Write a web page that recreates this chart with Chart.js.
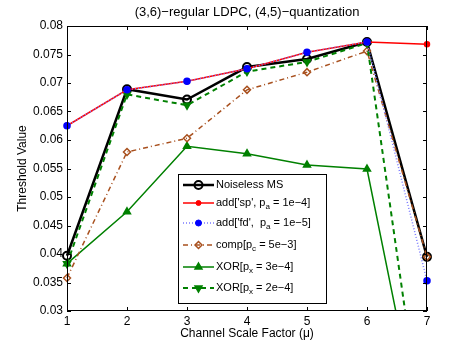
<!DOCTYPE html>
<html>
<head>
<meta charset="utf-8">
<script src="https://cdn.jsdelivr.net/npm/chart.js@4"></script>
<style>
  body { margin: 0; background: #fff; }
  #wrap { width: 453px; height: 345px; }
</style>
</head>
<body>
<div id="wrap"><canvas id="thresholdChart"></canvas></div>
<script>
// channel scale factor values
const scaleFactors = [1, 2, 3, 4, 5, 6, 7];
const yTicks = [0.03, 0.035, 0.04, 0.045, 0.05, 0.055, 0.06, 0.065, 0.07, 0.075, 0.08];

const noiselessMS = [0.0397, 0.0689, 0.0671, 0.0728, 0.0742, 0.0772, 0.0395];
const addSp = [0.0625, 0.0688, 0.0703, 0.0725, 0.0754, 0.0772, 0.0768];
const addFd = [0.0625, 0.0688, 0.0703, 0.0725, 0.0754, 0.0772, 0.0353];
const compVals = [0.0358, 0.0579, 0.0603, 0.0688, 0.0719, 0.0756, 0.0395];
const xor3 = [0.0383, 0.0474, 0.0589, 0.0576, 0.0556, 0.0549, 0.003];
const xor2 = [0.0383, 0.068, 0.0661, 0.072, 0.0737, 0.077, 0.003];

const chartTitle = "(3,6)−regular LDPC, (4,5)−quantization";

function pts(vals) {
  return vals.map((v, i) => ({ x: scaleFactors[i], y: v }));
}

const FONT = "'Liberation Sans', Arial, sans-serif";
const green = "#008000";
const brown = "#a8501e";
// let markers at the edges show, but cut lines at the bottom
const edgeClip = { left: 8, right: 8, top: 8, bottom: 0 };

// matlab style box + inward ticks + title + legend inside the plot
const matlabBox = {
  id: "matlabBox",
  afterDraw(chart) {
    let ctx = chart.ctx;
    let a = chart.chartArea;
    let xs = chart.scales.x, ys = chart.scales.y;
    ctx.save();
    ctx.fillStyle = "#000";
    ctx.font = "13px " + FONT;
    ctx.textAlign = "center";
    ctx.textBaseline = "middle";
    ctx.fillText(chartTitle, (a.left + a.right) / 2, 12);

    ctx.strokeStyle = "#000";
    ctx.lineWidth = 1;
    ctx.setLineDash([]);
    ctx.strokeRect(a.left + 0.5, a.top + 0.5, a.right - a.left - 1, a.bottom - a.top - 1);
    ctx.beginPath();
    scaleFactors.forEach((v) => {
      let px = Math.round(xs.getPixelForValue(v)) + 0.5;
      ctx.moveTo(px, a.bottom); ctx.lineTo(px, a.bottom - 4);
      ctx.moveTo(px, a.top); ctx.lineTo(px, a.top + 4);
    });
    yTicks.forEach((v) => {
      let py = Math.round(ys.getPixelForValue(v)) + 0.5;
      ctx.moveTo(a.left, py); ctx.lineTo(a.left + 4, py);
      ctx.moveTo(a.right, py); ctx.lineTo(a.right - 4, py);
    });
    ctx.stroke();

    // legend
    let bx = 178, by = 174, bw = 148, bh = 129;
    ctx.fillStyle = "#fff";
    ctx.fillRect(bx, by, bw, bh);
    ctx.strokeRect(bx + 0.5, by + 0.5, bw, bh);
    let rows = [185, 203, 223, 245, 267, 288];
    chart.data.datasets.forEach((ds, i) => {
      let y = rows[i];
      ctx.save();
      ctx.strokeStyle = ds.borderColor;
      ctx.lineWidth = ds.borderWidth;
      ctx.setLineDash(ds.borderDash || []);
      ctx.beginPath();
      ctx.moveTo(183, y); ctx.lineTo(214, y);
      ctx.stroke();
      ctx.setLineDash([]);
      ctx.strokeStyle = ds.pointBorderColor;
      ctx.fillStyle = ds.pointBackgroundColor;
      ctx.lineWidth = ds.pointBorderWidth || 1;
      Chart.helpers.drawPoint(ctx, {
        pointStyle: ds.pointStyle,
        rotation: ds.pointRotation || 0,
        radius: ds.pointRadius,
        borderWidth: ds.pointBorderWidth || 1
      }, 198.5, y);
      ctx.restore();
      // text with subscripts written as _x
      ctx.fillStyle = "#000";
      ctx.textBaseline = "middle";
      ctx.textAlign = "left";
      let tx = 216;
      let parts = ds.label.split(/_(\w)/);
      parts.forEach((p, k) => {
        if (k % 2 == 1) {
          ctx.font = "8px " + FONT;
          ctx.fillText(p, tx, y + 4);
        } else {
          ctx.font = "11px " + FONT;
          ctx.fillText(p, tx, y);
        }
        tx += ctx.measureText(p).width;
      });
    });
    ctx.restore();
  }
};

var ctx = document.getElementById("thresholdChart").getContext("2d");
var chart = new Chart(ctx, {
  type: "line",
  data: {
    datasets: [
      {
        label: "Noiseless MS",
        data: pts(noiselessMS),
        borderColor: "#000",
        borderWidth: 2.5,
        pointStyle: "circle",
        pointRadius: 4,
        pointBorderWidth: 2,
        pointBorderColor: "#000",
        pointBackgroundColor: "rgba(0,0,0,0)",
        clip: edgeClip,
        order: 5,
      },
      {
        label: "add['sp', p_a = 1e−4]",
        data: pts(addSp),
        borderColor: "#ff0000",
        borderWidth: 1.5,
        pointStyle: "circle",
        pointRadius: 2.5,
        pointBorderColor: "#ff0000",
        pointBackgroundColor: "#ff0000",
        clip: edgeClip,
        order: 2,
      },
      {
        label: "add['fd',  p_a = 1e−5]",
        data: pts(addFd),
        borderColor: "#7a7aff",
        borderWidth: 1.5,
        borderDash: [1, 2],
        pointStyle: "circle",
        pointRadius: 3,
        pointBorderColor: "#0000ff",
        pointBackgroundColor: "#0000ff",
        clip: edgeClip,
        order: 1,
      },
      {
        label: "comp[p_c = 5e−3]",
        data: pts(compVals),
        borderColor: brown,
        borderWidth: 1.5,
        borderDash: [5, 3, 1, 3],
        pointStyle: "rectRot",
        pointRadius: 3.5,
        pointBorderWidth: 1.5,
        pointBorderColor: brown,
        pointBackgroundColor: "rgba(0,0,0,0)",
        clip: edgeClip,
        order: 4,
      },
      {
        label: "XOR[p_x = 3e−4]",
        data: pts(xor3),
        borderColor: green,
        borderWidth: 1.5,
        pointStyle: "triangle",
        pointRadius: 4,
        pointBorderWidth: 1.5,
        pointBorderColor: green,
        pointBackgroundColor: green,
        clip: edgeClip,
        order: 6,
      },
      {
        label: "XOR[p_x = 2e−4]",
        data: pts(xor2),
        borderColor: green,
        borderWidth: 2,
        borderDash: [5, 4],
        pointStyle: "triangle",
        pointRotation: 180,
        pointRadius: 4,
        pointBorderWidth: 1.5,
        pointBorderColor: green,
        pointBackgroundColor: green,
        clip: edgeClip,
        order: 3,
      },
    ],
  },
  options: {
    responsive: true,
    maintainAspectRatio: false,
    animation: false,
    layout: { padding: { left: 0, right: 26, top: 26, bottom: 0 } },
    plugins: {
      legend: { display: false },
      tooltip: { enabled: false },
      title: { display: false },
    },
    scales: {
      x: {
        type: "linear",
        min: 1,
        max: 7,
        afterFit: (s) => { s.height = 34; },
        afterBuildTicks: (s) => { s.ticks = scaleFactors.map((v) => ({ value: v })); },
        grid: { display: false, drawTicks: false },
        border: { display: false },
        ticks: {
          color: "#000",
          padding: 3,
          maxRotation: 0,
          font: { family: FONT, size: 12 },
        },
        title: {
          display: true,
          text: "Channel Scale Factor (μ)",
          color: "#000",
          font: { family: FONT, size: 12 },
          padding: { top: 0, bottom: 4 },
        },
      },
      y: {
        min: 0.03,
        max: 0.08,
        afterFit: (s) => { s.width = 67; },
        afterBuildTicks: (s) => { s.ticks = yTicks.map((v) => ({ value: v })); },
        grid: { display: false, drawTicks: false },
        border: { display: false },
        ticks: {
          color: "#000",
          padding: 4,
          font: { family: FONT, size: 12 },
          callback: (v) => String(+v.toFixed(3)),
        },
        title: {
          display: true,
          text: "Threshold Value",
          color: "#000",
          font: { family: FONT, size: 12 },
          padding: { top: 15, bottom: 0 },
        },
      },
    },
  },
  plugins: [matlabBox],
});
</script>
</body>
</html>
